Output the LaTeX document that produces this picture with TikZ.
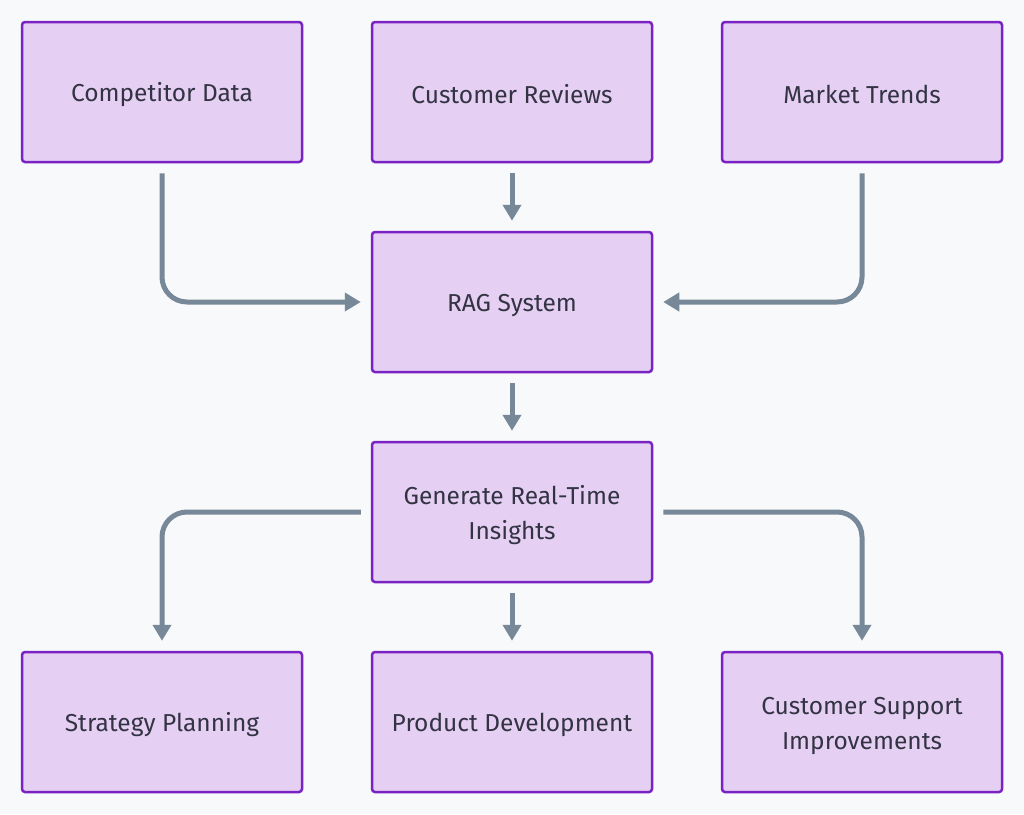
\documentclass[tikz,border=0pt]{standalone}
\usepackage{fontspec}
\setmainfont{Fira Sans}
\usetikzlibrary{arrows.meta}
\definecolor{bg}{HTML}{F8F9FA}
\definecolor{boxfill}{HTML}{E5D0F4}
\definecolor{boxline}{HTML}{7B22C4}
\definecolor{arrowc}{HTML}{778899}
\definecolor{txt}{HTML}{333344}
\newcommand\ts{\rule[-2pt]{0pt}{26.5pt}}
\tikzset{
  box/.style={draw=boxline, line width=2.5pt, fill=boxfill, rounded corners=3pt,
    minimum width=280pt, minimum height=140pt, inner sep=0pt, align=center,
    text=txt, font=\fontsize{24.5}{35}\selectfont},
  arr/.style={draw=arrowc, line width=5pt, rounded corners=25pt,
    -{Triangle[length=16pt,width=18pt]}, shorten >=10pt, shorten <=10pt}
}
\begin{document}
\begin{tikzpicture}[x=1pt,y=-1pt]
\fill[bg] (0,0) rectangle (1024,814);
\useasboundingbox (0,0) rectangle (1024,814);
\node[box] (comp) at (162,92) {\ts Competitor Data};
\node[box] (rev) at (512,92) {\ts Customer Reviews};
\node[box] (mkt) at (862,92) {\ts Market Trends};
\node[box] (rag) at (512,302) {\ts RAG System};
\node[box] (gen) at (512,512) {\ts Generate Real-Time\\\ts Insights};
\node[box] (strat) at (162,722) {\ts Strategy Planning};
\node[box] (prod) at (512,722) {\ts Product Development};
\node[box] (sup) at (862,722) {\ts Customer Support\\\ts Improvements};
\draw[arr] (comp.south) |- (rag.west);
\draw[arr] (rev.south) -- (rag.north);
\draw[arr] (mkt.south) |- (rag.east);
\draw[arr] (rag.south) -- (gen.north);
\draw[arr] (gen.west) -| (strat.north);
\draw[arr] (gen.south) -- (prod.north);
\draw[arr] (gen.east) -| (sup.north);
\end{tikzpicture}
\end{document}
